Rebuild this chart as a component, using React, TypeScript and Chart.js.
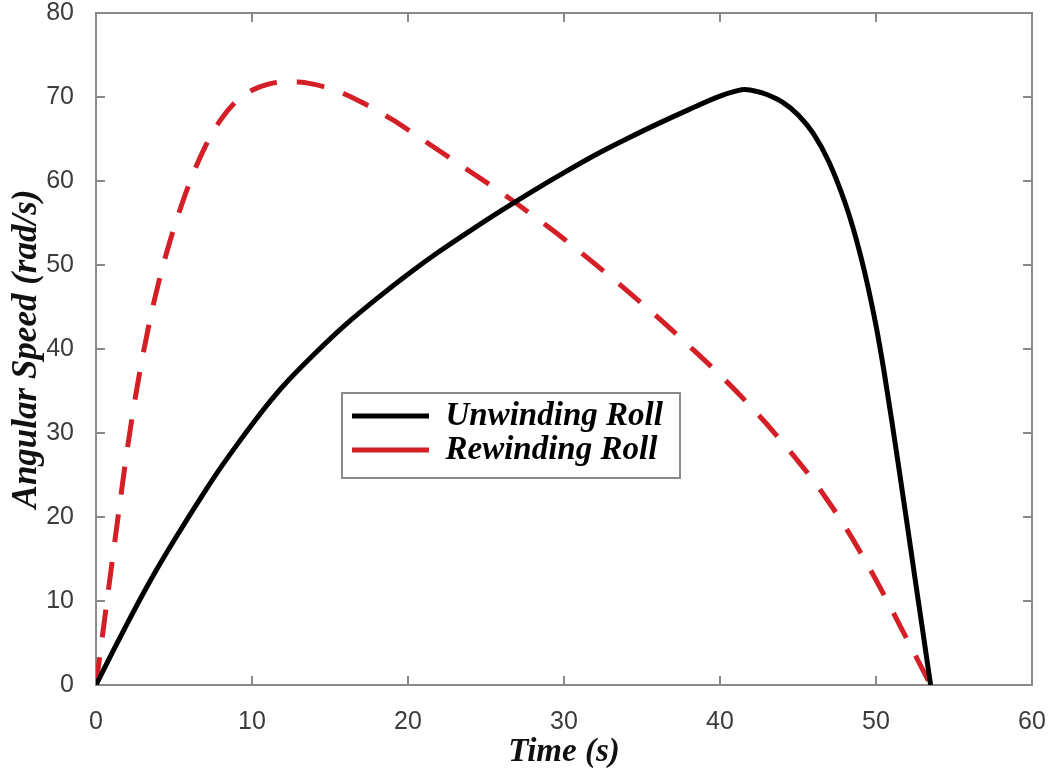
import React, { useEffect, useRef } from "react";
import { Chart, registerables } from "chart.js";

Chart.register(...registerables);

// ---- data ----
const timeUnwind = [0, 1, 2, 3, 4, 5, 6, 7, 8, 9, 10, 11, 12, 14, 16, 18, 20, 22, 24, 26, 28, 30, 32, 34, 36, 38, 40, 41, 41.6, 42.5, 43, 44, 45, 46, 47, 48, 48.5, 49, 49.5, 50, 50.5, 51, 51.5, 52, 52.5, 53, 53.5];
const speedUnwind = [0, 3.7, 7.3, 10.8, 14.1, 17.2, 20.2, 23.1, 25.9, 28.5, 31.0, 33.4, 35.6, 39.4, 42.9, 46.0, 48.9, 51.6, 54.1, 56.5, 58.8, 61.0, 63.1, 65.0, 66.8, 68.5, 70.1, 70.7, 70.9, 70.6, 70.3, 69.4, 67.9, 65.6, 62.2, 57.5, 54.6, 51.2, 47.3, 42.8, 37.5, 31.6, 25.4, 19.1, 12.7, 6.4, 0];

const timeRewind = [0, 0.5, 1, 1.5, 2, 2.5, 3, 3.5, 4, 4.5, 5, 6, 7, 8, 9, 10, 11, 12, 13, 14, 15, 16, 17, 18, 19, 20, 22, 24, 26, 28, 30, 32, 34, 36, 38, 40, 42, 44, 46, 47, 48, 49, 50, 51, 52, 53, 53.5];
const speedRewind = [0, 7.1, 14.2, 21.2, 28.0, 34.0, 39.2, 43.8, 47.8, 51.3, 54.4, 59.8, 64.1, 67.3, 69.5, 70.8, 71.5, 71.8, 71.8, 71.5, 71.0, 70.3, 69.4, 68.4, 67.3, 66.1, 63.6, 61.1, 58.6, 55.9, 53.1, 50.1, 47.0, 43.8, 40.4, 36.9, 33.1, 28.9, 24.3, 21.7, 18.9, 15.8, 12.5, 9.0, 5.4, 1.8, 0];

const seriesLabels = ["Unwinding Roll", "Rewinding Roll"];
const xTitle = "Time (s)";
const yTitle = "Angular Speed (rad/s)";
const xRange = [0, 60];
const yRange = [0, 80];
const xStep = 10;
const yStep = 10;

// ---- styling ----
const AXIS_COLOR = "#8a8a8a";
const TICK_TEXT = "#3c3c3c";
const SERIF = "'Liberation Serif', 'Times New Roman', serif";
const SANS = "'Liberation Sans', Arial, Helvetica, sans-serif";
const LEGEND_FRAME = { left: 342, top: 393, right: 680, bottom: 478 };
const LEGEND_ORIGIN = { left: 351, top: 398.5 };

const toPoints = (xs: number[], ys: number[]) => xs.map((x, i) => ({ x, y: ys[i] }));

const matlabBox = {
  id: "matlabBox",
  beforeDraw(chart: any) {
    const lg = chart.legend;
    if (lg) {
      lg.left = LEGEND_ORIGIN.left;
      lg.top = LEGEND_ORIGIN.top;
      lg.right = LEGEND_FRAME.right;
      lg.bottom = LEGEND_FRAME.bottom;
      lg.width = lg.right - lg.left;
      lg.height = lg.bottom - lg.top;
    }
    const { ctx } = chart;
    ctx.save();
    ctx.fillStyle = "#ffffff";
    ctx.strokeStyle = AXIS_COLOR;
    ctx.lineWidth = 2;
    const w = LEGEND_FRAME.right - LEGEND_FRAME.left;
    const h = LEGEND_FRAME.bottom - LEGEND_FRAME.top;
    ctx.fillRect(LEGEND_FRAME.left, LEGEND_FRAME.top, w, h);
    ctx.strokeRect(LEGEND_FRAME.left, LEGEND_FRAME.top, w, h);
    ctx.restore();
  },
  beforeDatasetsDraw(chart: any) {
    const { ctx, chartArea: a, scales } = chart;
    const xs = scales.x;
    const ys = scales.y;
    const tl = 9;
    ctx.save();
    ctx.strokeStyle = AXIS_COLOR;
    ctx.lineWidth = 2;
    ctx.strokeRect(a.left, a.top, a.right - a.left, a.bottom - a.top);
    ctx.beginPath();
    xs.ticks.forEach((t: any) => {
      const px = xs.getPixelForValue(t.value);
      if (Math.abs(px - a.left) < 1 || Math.abs(px - a.right) < 1) return;
      ctx.moveTo(px, a.bottom);
      ctx.lineTo(px, a.bottom - tl);
      ctx.moveTo(px, a.top);
      ctx.lineTo(px, a.top + tl);
    });
    ys.ticks.forEach((t: any) => {
      const py = ys.getPixelForValue(t.value);
      if (Math.abs(py - a.top) < 1 || Math.abs(py - a.bottom) < 1) return;
      ctx.moveTo(a.left, py);
      ctx.lineTo(a.left + tl, py);
      ctx.moveTo(a.right, py);
      ctx.lineTo(a.right - tl, py);
    });
    ctx.stroke();
    ctx.restore();
  },
};

export default function App() {
  const ref = useRef<HTMLCanvasElement>(null);

  useEffect(() => {
    if (!ref.current) return;
    const chart = new Chart(ref.current, {
      type: "line",
      data: {
        datasets: [
          {
            label: seriesLabels[0],
            data: toPoints(timeUnwind, speedUnwind),
            borderColor: "#000000",
            backgroundColor: "#000000",
            borderWidth: 5,
            pointRadius: 0,
            cubicInterpolationMode: "monotone",
            fill: false,
          },
          {
            label: seriesLabels[1],
            data: toPoints(timeRewind, speedRewind),
            borderColor: "#d41f27",
            backgroundColor: "#d41f27",
            borderWidth: 5,
            borderDash: [28, 20],
            pointRadius: 0,
            cubicInterpolationMode: "monotone",
            fill: false,
          },
        ],
      },
      options: {
        responsive: false,
        devicePixelRatio: 1,
        animation: false,
        layout: { padding: { left: 0, top: 13, right: 23, bottom: 0 } },
        plugins: {
          tooltip: { enabled: false },
          legend: {
            position: "chartArea",
            align: "start",
            labels: {
              usePointStyle: true,
              pointStyle: "line",
              pointStyleWidth: 77,
              boxHeight: 33,
              padding: 1,
              color: "#000000",
              font: { family: SERIF, size: 33, style: "italic", weight: "bold" },
            },
          },
        },
        scales: {
          x: {
            type: "linear",
            min: xRange[0],
            max: xRange[1],
            grid: { display: false },
            border: { display: false },
            afterFit: (s: any) => {
              s.height = 88;
              s.paddingLeft = 0;
              s.paddingRight = 0;
            },
            ticks: {
              stepSize: xStep,
              padding: 14,
              maxRotation: 0,
              color: TICK_TEXT,
              font: { family: SANS, size: 25 },
            },
            title: {
              display: true,
              text: xTitle,
              color: "#111111",
              padding: { top: 0, bottom: 1 },
              font: { family: SERIF, size: 33, style: "italic", weight: "bold" },
            },
          },
          y: {
            type: "linear",
            min: yRange[0],
            max: yRange[1],
            grid: { display: false },
            border: { display: false },
            afterFit: (s: any) => {
              s.width = 96;
              s.paddingTop = 0;
              s.paddingBottom = 0;
            },
            ticks: {
              stepSize: yStep,
              padding: 14,
              color: TICK_TEXT,
              font: { family: SANS, size: 25 },
            },
            title: {
              display: true,
              text: yTitle,
              color: "#111111",
              padding: { top: 6, bottom: 0 },
              font: { family: SERIF, size: 35, style: "italic", weight: "bold" },
            },
          },
        },
      },
      plugins: [matlabBox],
    } as any);
    return () => chart.destroy();
  }, []);

  return (
    <div style={{ position: "fixed", left: 0, top: 0, width: 1055, height: 773, background: "#ffffff" }}>
      <canvas ref={ref} width={1055} height={773} style={{ display: "block" }} />
    </div>
  );
}
